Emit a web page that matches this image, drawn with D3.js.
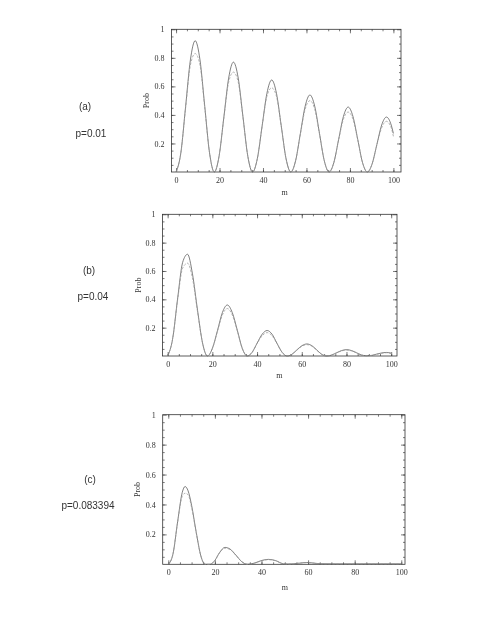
<!DOCTYPE html>
<html>
<head>
<meta charset="utf-8">
<script src="https://cdn.jsdelivr.net/npm/d3@7"></script>
<style>
  body { margin: 0; background: #fff; }
  svg { display: block; will-change: transform; }
  .tick text { font-family: "Liberation Serif", "DejaVu Serif", serif; font-size: 8px; fill: #333; }
</style>
</head>
<body>
<div id="chart"></div>
<script>
// Values: m positions and Prob for the two curves of each panel

var mA = [0, 2.2, 4.4, 6.6, 8.8, 11, 13.2, 15.4, 17.6, 19.8, 22, 24.2, 26.4, 28.6, 30.8, 33, 35.2,
          37.4, 39.6, 41.8, 44, 46.2, 48.4, 50.6, 52.8, 55, 57.2, 59.4, 61.6, 63.8, 66, 68.2, 70.4,
          72.6, 74.8, 77, 79.2, 81.4, 83.6, 85.8, 88, 90.2, 92.4, 94.6, 96.8, 99, 100];
var probA1 = [0, .134, .46, .786, .92, .786, .46, .134, 0,
              .112, .385, .658, .77, .658, .385, .112, 0,
              .094, .323, .551, .645, .551, .323, .094, 0,
              .079, .27, .461, .54, .461, .27, .079, 0,
              .066, .228, .389, .455, .389, .228, .066, 0,
              .056, .193, .329, .385, .329, .27];
var probA2 = [0, .134, .45, .75, .83, .75, .45, .134, 0,
              .112, .38, .63, .70, .63, .38, .112, 0,
              .094, .32, .53, .59, .53, .32, .094, 0,
              .079, .265, .44, .50, .44, .265, .079, 0,
              .066, .225, .37, .42, .37, .225, .066, 0,
              .056, .19, .31, .355, .31, .25];

var mB = [0, 2.2, 4.5, 6.7, 8.9, 11.1, 13.4, 15.6, 17.8, 20, 22.3, 24.5, 26.7, 28.9, 31.2, 33.4, 35.6,
          37.8, 40, 42.3, 44.5, 46.7, 48.9, 51.2, 53.4, 55.6, 57.8, 60.1, 62.3, 64.5, 66.7, 68.9, 71.2,
          73.4, 75.6, 77.8, 80.1, 82.3, 84.5, 86.7, 88.9, 91.2, 93.4, 95.6, 97.9, 100];
var probB1 = [0, .118, .41, .66, .718, .58, .32, .093, 0,
              .053, .18, .307, .36, .307, .18, .053, 0,
              .026, .09, .154, .18, .154, .09, .026, 0,
              .012, .043, .073, .085, .073, .043, .012, 0,
              .007, .023, .038, .045, .038, .023, .007, .002,
              .004, .013, .021, .025, .02];
var probB2 = [0, .118, .40, .62, .655, .55, .31, .093, 0,
              .053, .175, .29, .335, .29, .175, .053, 0,
              .026, .088, .143, .165, .143, .088, .026, 0,
              .012, .041, .069, .08, .069, .041, .012, 0,
              .007, .022, .036, .042, .036, .022, .007, .002,
              .004, .012, .019, .023, .018];

var mC = [0, 2, 4, 6, 7.2, 8.5, 10, 12, 14, 15.8, 17.9, 20, 22, 24.3, 26.5, 29, 31.5, 34,
          37, 40, 43, 46, 49.5, 51.5, 53.6, 56, 59.4, 62, 65, 70, 75, 80, 85, 90, 95, 100];
var probC1 = [0, .068, .284, .481, .52, .491, .395, .213, .055, 0,
              0, .026, .078, .113, .102, .062, .018, 0,
              .008, .025, .033, .025, .003, .002, .003,
              .007, .012, .009, .004,
              .003, .003, .003, .003, .003, .003, .003];
var probC2 = [0, .068, .28, .455, .475, .465, .38, .21, .055, 0,
              0, .026, .077, .108, .099, .06, .018, 0,
              .008, .024, .031, .024, .003, .002, .003,
              .007, .011, .008, .004,
              .003, .003, .003, .003, .003, .003, .003];

var panelNames = ["(a)", "(b)", "(c)"];
var panelParams = ["p=0.01", "p=0.04", "p=0.083394"];
var xTicks = [0, 20, 40, 60, 80, 100];
var yTicks = [0.2, 0.4, 0.6, 0.8, 1];

// Layout of each panel on the page
var layouts = [
  {left: 171.5, right: 401, top: 29.3, bottom: 172, xDomain: [-2.1, 103.5], nameX: 85, nameY: 110, parX: 91, parY: 137, mY: 195, probX: 149},
  {left: 162.5, right: 397, top: 214.3, bottom: 356, xDomain: [-2.3, 102.6], nameX: 89, nameY: 273.5, parX: 93, parY: 299.5, mY: 378, probX: 141},
  {left: 162.7, right: 405, top: 414.7, bottom: 564.3, xDomain: [-2.4, 101.6], nameX: 90, nameY: 482.5, parX: 88, parY: 508.5, mY: 590, probX: 140}
];

var panels = [
  {m: mA, series: [probA1, probA2]},
  {m: mB, series: [probB1, probB2]},
  {m: mC, series: [probC1, probC2]}
];

var svg = d3.select("#chart").append("svg")
    .attr("width", 485)
    .attr("height", 628);

svg.append("rect").attr("width", 485).attr("height", 628).attr("fill", "#fff");

var minorX = d3.range(0, 101, 5),
    minorY = d3.range(0.05, 1, 0.05);

function styleAxis(sel) {
  sel.select(".domain").remove();
  sel.selectAll(".tick line").attr("stroke", "#444").attr("stroke-width", 0.7);
}

panels.forEach(function(p, i) {
  var L = layouts[i];
  var x = d3.scaleLinear().domain(L.xDomain).range([L.left, L.right]);
  var y = d3.scaleLinear().domain([0, 1]).range([L.bottom, L.top]);
  var g = svg.append("g");

  // minor ticks on all four sides
  g.append("g").attr("transform", "translate(0," + L.bottom + ")")
      .call(d3.axisBottom(x).tickValues(minorX).tickSize(-2).tickFormat("")).call(styleAxis);
  g.append("g").attr("transform", "translate(0," + L.top + ")")
      .call(d3.axisTop(x).tickValues(minorX).tickSize(-2).tickFormat("")).call(styleAxis);
  g.append("g").attr("transform", "translate(" + L.left + ",0)")
      .call(d3.axisLeft(y).tickValues(minorY).tickSize(-2).tickFormat("")).call(styleAxis);
  g.append("g").attr("transform", "translate(" + L.right + ",0)")
      .call(d3.axisRight(y).tickValues(minorY).tickSize(-2).tickFormat("")).call(styleAxis);

  // major ticks with labels
  g.append("g").attr("transform", "translate(0," + L.bottom + ")")
      .call(d3.axisBottom(x).tickValues(xTicks).tickSize(-4).tickPadding(5)).call(styleAxis);
  g.append("g").attr("transform", "translate(0," + L.top + ")")
      .call(d3.axisTop(x).tickValues(xTicks).tickSize(-4).tickFormat("")).call(styleAxis);
  g.append("g").attr("transform", "translate(" + L.left + ",0)")
      .call(d3.axisLeft(y).tickValues(yTicks).tickSize(-4).tickPadding(7)
        .tickFormat(function(d) { return d === 1 ? "1" : d3.format(".1f")(d); })).call(styleAxis);
  g.append("g").attr("transform", "translate(" + L.right + ",0)")
      .call(d3.axisRight(y).tickValues(yTicks).tickSize(-4).tickFormat("")).call(styleAxis);

  // frame
  g.append("rect")
      .attr("x", L.left).attr("y", L.top)
      .attr("width", L.right - L.left).attr("height", L.bottom - L.top)
      .attr("fill", "none").attr("stroke", "#333").attr("stroke-width", 0.8);

  // curves
  p.series.forEach(function(vals, k) {
    var line = d3.line()
        .x(function(d, j) { return x(p.m[j]); })
        .y(function(d) { return y(d); })
        .curve(d3.curveMonotoneX);
    g.append("path")
        .datum(vals)
        .attr("d", line)
        .attr("fill", "none")
        .attr("stroke", k === 0 ? "#555" : "#999")
        .attr("stroke-width", 0.75)
        .attr("stroke-dasharray", k === 0 ? null : "2.5,1.5");
  });

  // axis titles
  g.append("text")
      .attr("x", (x(0) + x(100)) / 2).attr("y", L.mY)
      .attr("text-anchor", "middle")
      .style("font-family", "'Liberation Serif', serif").style("font-size", "8px").style("fill", "#333")
      .text("m");
  g.append("text")
      .attr("transform", "translate(" + L.probX + "," + ((L.top + L.bottom) / 2) + ") rotate(-90)")
      .attr("text-anchor", "middle")
      .style("font-family", "'Liberation Serif', serif").style("font-size", "8px").style("fill", "#333")
      .text("Prob");

  // panel labels on the left
  g.append("text")
      .attr("x", L.nameX).attr("y", L.nameY)
      .attr("text-anchor", "middle")
      .style("font-family", "'Liberation Sans', sans-serif").style("font-size", "10px").style("fill", "#333")
      .text(panelNames[i]);
  g.append("text")
      .attr("x", L.parX).attr("y", L.parY)
      .attr("text-anchor", "middle")
      .style("font-family", "'Liberation Sans', sans-serif").style("font-size", "10px").style("fill", "#333")
      .text(panelParams[i]);
});
</script>
</body>
</html>
